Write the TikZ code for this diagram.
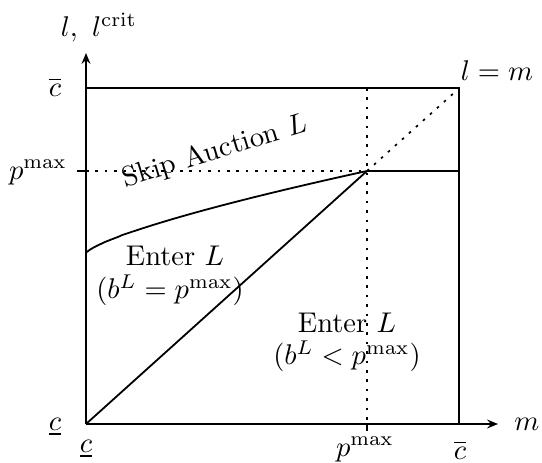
\documentclass[tikz,border=0pt]{standalone}
\usepackage{amsmath}
\usepackage{graphicx}
\usetikzlibrary{arrows.meta}
\newcommand\LB[1]{\scalebox{2.85}{#1}}
\begin{document}
\begin{tikzpicture}[x=1pt,y=-1pt,
  axisline/.style={line width=2.7pt},
  boxline/.style={line width=1.8pt},
  dotline/.style={line width=1.7pt,dash pattern=on 2.6pt off 6.8pt},
  axisarrow/.style={-{Stealth[length=11pt,width=9pt,inset=4pt]}},
  lbl/.style={inner sep=0pt}]
\useasboundingbox (0,0) rectangle (542,463);
\coordinate (O) at (86,424);
\coordinate (Ytop) at (86,53);
\coordinate (Xend) at (498,424);
\coordinate (P) at (367,171);
\coordinate (TL) at (86,88);
\coordinate (TR) at (459,88);
\coordinate (BR) at (459,424);
\coordinate (PL) at (86,171);
\coordinate (PT) at (367,88);
\coordinate (PB) at (367,424);
\coordinate (PR) at (459,171);
\coordinate (C0) at (86,253);
\coordinate (LM) at (455,92);
\coordinate (TickY) at (77,171);
\coordinate (TickX) at (367,431);
% box
\draw[boxline] (TL) -- (TR) -- (BR);
% dotted guides
\draw[dotline] (PL) -- (P);
\draw[dotline] (PT) -- (PB);
\draw[dotline] (P) -- (LM);
% solid parts
\draw[boxline] (P) -- (PR);
\draw[boxline] (O) -- (P);
\draw[boxline] (C0) -- plot[domain=0.002:1,samples=80] ({86+281*\x},{253-82*(\x)^0.75});
% ticks
\draw[boxline] (TickY) -- (PL);
\draw[boxline] (TickX) -- (PB);
% axes
\draw[axisline,axisarrow] (O) -- (Ytop);
\draw[axisline,axisarrow] (O) -- (Xend);
% labels
\node[lbl,anchor=base] (ylab) at (99,37) {\LB{$l,\ l^{\mathrm{crit}}$}};
\node[lbl,anchor=base] (cbarL) at (55,96) {\LB{$\overline{c}$}};
\node[lbl,anchor=base] (pmaxL) at (38,179) {\LB{$p^{\max}$}};
\node[lbl,anchor=base] (cunderL) at (55,430) {\LB{$\underline{c}$}};
\node[lbl,anchor=base] (cunderB) at (86,452) {\LB{$\underline{c}$}};
\node[lbl,anchor=base] (pmaxB) at (365,456) {\LB{$p^{\max}$}};
\node[lbl,anchor=base] (cbarB) at (460,459) {\LB{$\overline{c}$}};
\node[lbl,anchor=base] (mlab) at (527,430) {\LB{$m$}};
\node[lbl,anchor=base] (lmlab) at (497,80) {\LB{$l=m$}};
\node[lbl,rotate=17] (skip) at (215,152) {\LB{Skip Auction $L$}};
\node[lbl] (enter1) at (175,256) {\LB{Enter $L$}};
\node[lbl] (enter1b) at (170,290) {\LB{$(b^L=p^{\max})$}};
\node[lbl] (enter2) at (347,323) {\LB{Enter $L$}};
\node[lbl] (enter2b) at (347,356) {\LB{$(b^L<p^{\max})$}};
\end{tikzpicture}
\end{document}
